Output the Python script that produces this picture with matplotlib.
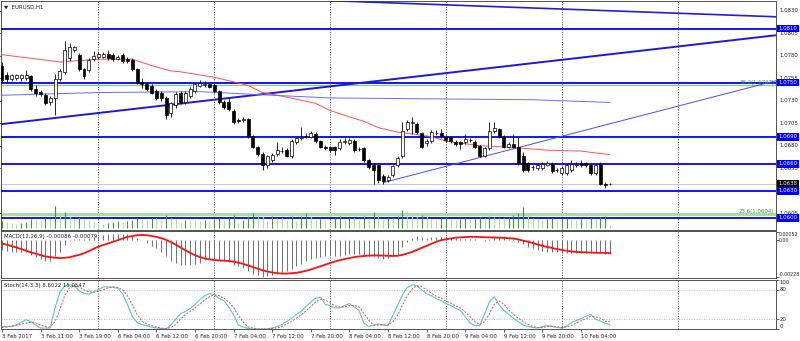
# EURUSD H1 terminal-style chart: candles + MAs + levels, MACD and Stochastic panes
import numpy as np
import matplotlib
matplotlib.use("Agg")
import matplotlib.pyplot as plt
import matplotlib.transforms as mtransforms

plt.rcParams["font.family"] = ["DejaVu Sans"]

# ---- price bars (bar 0 = 3 Feb 2017 03:00, hourly)
opens = [1.0769,1.0759,1.0754,1.0755,1.0755,1.0755,1.0757,1.0743,1.0740,1.0736,
         1.0728,1.0733,1.0754,1.0762,1.0777,1.0786,1.0781,1.0765,1.0764,1.0776,
         1.0779,1.0779,1.0782,1.0781,1.0776,1.0781,1.0776,1.0775,1.0765,1.0751,
         1.0749,1.0746,1.0741,1.0739,1.0733,1.0716,1.0725,1.0739,1.0728,1.0735,
         1.0741,1.0746,1.0747,1.0748,1.0747,1.0741,1.0729,1.0728,1.0719,1.0709,
         1.0708,1.0710,1.0691,1.0679,1.0671,1.0658,1.0664,1.0671,1.0674,1.0675,
         1.0669,1.0684,1.0688,1.0691,1.0690,1.0693,1.0685,1.0679,1.0678,1.0678,
         1.0677,1.0684,1.0683,1.0685,1.0676,1.0677,1.0664,1.0659,1.0658,1.0646,
         1.0642,1.0647,1.0658,1.0668,1.0698,1.0705,1.0704,1.0694,1.0683,1.0685,
         1.0694,1.0694,1.0690,1.0690,1.0684,1.0684,1.0684,1.0686,1.0684,1.0680,
         1.0669,1.0677,1.0696,1.0698,1.0690,1.0679,1.0682,1.0679,1.0668,1.0661,
         1.0656,1.0655,1.0655,1.0659,1.0660,1.0653,1.0650,1.0650,1.0653,1.0658,
         1.0660,1.0661,1.0659,1.0650,1.0660,1.0637,1.0637]
closes = [1.0753,1.0754,1.0758,1.0758,1.0758,1.0758,1.0743,1.0739,1.0737,1.0727,
          1.0733,1.0754,1.0763,1.0786,1.0790,1.0790,1.0765,1.0757,1.0775,1.0780,
          1.0782,1.0782,1.0777,1.0776,1.0779,1.0774,1.0774,1.0765,1.0750,1.0748,
          1.0743,1.0739,1.0733,1.0733,1.0714,1.0727,1.0737,1.0728,1.0739,1.0743,
          1.0748,1.0750,1.0749,1.0745,1.0741,1.0728,1.0723,1.0721,1.0706,1.0707,
          1.0710,1.0691,1.0679,1.0671,1.0658,1.0668,1.0670,1.0675,1.0674,1.0669,
          1.0685,1.0688,1.0690,1.0691,1.0694,1.0685,1.0679,1.0677,1.0675,1.0675,
          1.0684,1.0685,1.0686,1.0675,1.0676,1.0664,1.0656,1.0653,1.0642,1.0641,
          1.0645,1.0657,1.0666,1.0696,1.0706,1.0706,1.0695,1.0679,1.0685,1.0695,
          1.0694,1.0691,1.0686,1.0685,1.0682,1.0682,1.0687,1.0686,1.0679,1.0669,
          1.0677,1.0696,1.0700,1.0690,1.0679,1.0682,1.0679,1.0661,1.0653,1.0653,
          1.0656,1.0658,1.0660,1.0661,1.0652,1.0653,1.0655,1.0658,1.0660,1.0660,
          1.0658,1.0658,1.0650,1.0658,1.0637,1.0636,1.0638]
highs = [1.0773,1.0762,1.0760,1.0760,1.0760,1.0764,1.0759,1.0747,1.0742,1.0738,
         1.0735,1.0760,1.0765,1.0796,1.0794,1.0791,1.0783,1.0766,1.0777,1.0785,
         1.0784,1.0784,1.0786,1.0783,1.0781,1.0783,1.0778,1.0777,1.0766,1.0755,
         1.0751,1.0748,1.0743,1.0741,1.0735,1.0729,1.0740,1.0741,1.0741,1.0745,
         1.0750,1.0753,1.0752,1.0750,1.0749,1.0742,1.0731,1.0733,1.0721,1.0711,
         1.0712,1.0711,1.0692,1.0680,1.0673,1.0670,1.0672,1.0684,1.0678,1.0677,
         1.0687,1.0690,1.0701,1.0694,1.0696,1.0695,1.0686,1.0681,1.0680,1.0680,
         1.0687,1.0689,1.0689,1.0687,1.0678,1.0679,1.0665,1.0661,1.0659,1.0649,
         1.0648,1.0659,1.0668,1.0706,1.0708,1.0712,1.0706,1.0695,1.0687,1.0697,
         1.0697,1.0698,1.0692,1.0691,1.0686,1.0685,1.0693,1.0689,1.0686,1.0681,
         1.0679,1.0706,1.0706,1.0700,1.0692,1.0684,1.0693,1.0690,1.0673,1.0662,
         1.0658,1.0660,1.0662,1.0663,1.0662,1.0655,1.0657,1.0660,1.0664,1.0662,
         1.0664,1.0662,1.0660,1.0660,1.0662,1.0640,1.0639]
lows = [1.0751,1.0750,1.0752,1.0753,1.0752,1.0753,1.0741,1.0735,1.0735,1.0725,
        1.0725,1.0714,1.0752,1.0760,1.0774,1.0784,1.0763,1.0754,1.0762,1.0774,
        1.0776,1.0777,1.0775,1.0774,1.0775,1.0772,1.0772,1.0763,1.0748,1.0744,
        1.0741,1.0737,1.0731,1.0730,1.0710,1.0712,1.0722,1.0726,1.0726,1.0733,
        1.0739,1.0745,1.0745,1.0744,1.0739,1.0726,1.0721,1.0719,1.0704,1.0705,
        1.0706,1.0689,1.0677,1.0669,1.0653,1.0655,1.0662,1.0669,1.0672,1.0667,
        1.0666,1.0682,1.0686,1.0688,1.0688,1.0683,1.0677,1.0675,1.0673,1.0670,
        1.0675,1.0682,1.0681,1.0673,1.0674,1.0662,1.0654,1.0637,1.0639,1.0638,
        1.0640,1.0645,1.0656,1.0666,1.0696,1.0693,1.0693,1.0677,1.0680,1.0683,
        1.0692,1.0688,1.0684,1.0683,1.0680,1.0676,1.0682,1.0684,1.0677,1.0667,
        1.0667,1.0675,1.0694,1.0688,1.0677,1.0677,1.0677,1.0659,1.0651,1.0651,
        1.0653,1.0653,1.0653,1.0657,1.0650,1.0651,1.0648,1.0647,1.0651,1.0656,
        1.0656,1.0656,1.0648,1.0648,1.0636,1.0633,1.0636]
volumes = [700,600,500,400,500,600,900,800,700,1000,
           900,2200,1300,1600,1200,900,1100,900,800,700,
           500,400,500,600,700,600,700,800,1000,900,
           800,1000,1000,900,1300,1000,900,500,830,830,
           830,670,830,670,830,1000,830,1000,1330,500,
           830,1170,1500,1430,1170,670,1170,1000,1000,830,
           1170,670,1170,1500,1170,830,900,830,400,1000,
           1170,830,1000,1000,830,1170,1000,1570,1170,830,
           1000,1000,1170,1770,1670,1170,1170,1330,1170,900,
           800,1000,1100,900,800,900,1000,800,900,1100,
           1000,1200,1100,1000,1000,1100,1300,1500,2100,1400,
           1000,900,800,900,1000,800,900,1000,900,800,
           900,800,1000,900,1100,1200,300]

# ---- moving averages (read at a few bars)
ma_red_bars = [0, 12, 20, 27, 31, 35, 37, 44, 51, 54, 58, 65, 68, 72, 75, 78, 82, 85, 89, 92, 99, 106, 113, 120, 126]
ma_red = [1.0781, 1.0773, 1.0776, 1.0776, 1.0769, 1.0763, 1.0762, 1.0756, 1.0747, 1.0739, 1.0735, 1.0727, 1.0719,
          1.0712, 1.0707, 1.0700, 1.0695, 1.0693, 1.0690, 1.0685, 1.0680, 1.0678, 1.0675, 1.0674, 1.0670]
ma_blue_bars = [0, 20, 41, 52, 68, 89, 110, 126]
ma_blue = [1.0736, 1.0739, 1.0740, 1.0737, 1.0733, 1.0732, 1.0731, 1.0728]

# ---- drawn objects
hlevels = [1.0810, 1.0750, 1.0690, 1.0660, 1.0630, 1.0600]
bid = 1.0638
fib_levels = [1.0747, 1.0604]
fib_names = ["38.2(1.0747)", "23.6(1.0604)"]
trend_main = ([0, 161], [1.0704, 1.0803])
trend_top = ([68, 161], [1.0841, 1.0823])
trend_thin = ([79, 161], [1.0639, 1.0753])

# ---- MACD(12,26,9), units of 1e-5
macd_main = [-60,-65,-70,-70,-70,-75,-90,-105,-115,-125,
             -125,-100,-70,-30,-5,5,10,5,15,20,
             25,30,35,38,40,38,35,28,15,0,
             -15,-35,-50,-70,-100,-125,-140,-150,-155,-150,
             -145,-140,-120,-115,-115,-120,-125,-135,-150,-160,
             -170,-190,-205,-215,-225,-220,-215,-205,-195,-190,
             -175,-160,-145,-130,-115,-110,-105,-100,-100,-100,
             -95,-90,-85,-85,-85,-90,-95,-100,-110,-115,
             -110,-100,-85,-45,-10,15,25,20,15,20,
             20,20,18,15,12,10,10,8,5,0,
             -5,10,20,20,15,10,5,-10,-25,-40,
             -50,-60,-65,-70,-72,-75,-78,-78,-78,-78,
             -78,-78,-80,-80,-78,-84,-86]
macd_signal = [-20,-28,-37,-45,-55,-65,-75,-83,-92,-100,
               -104,-108,-110,-108,-105,-97,-90,-80,-67,-53,
               -40,-30,-20,-10,0,10,20,25,30,32,
               30,26,20,12,2,-12,-28,-45,-62,-78,
               -92,-104,-112,-118,-122,-124,-126,-128,-132,-138,
               -146,-155,-165,-175,-185,-192,-198,-202,-205,-205,
               -203,-200,-195,-188,-180,-170,-160,-150,-140,-131,
               -123,-116,-110,-104,-100,-97,-95,-94,-94,-95,
               -96,-97,-96,-90,-82,-72,-60,-47,-35,-22,
               -10,0,5,10,15,17,19,20,20,19,
               18,17,16,15,14,12,10,4,-3,-10,
               -18,-27,-35,-42,-48,-55,-60,-65,-70,-72,
               -74,-75,-76,-77,-78,-78,-79]

# ---- Stochastic(14,3,3)
stoch_main = [5,5,5,8,14,19,15,8,2,2,
              2,43,75,88,90,88,78,73,71,76,
              80,86,86,85,83,72,50,26,13,9,
              7,4,2,1,0,8,20,31,36,42,
              50,60,68,72,70,62,58,45,29,8,
              4,1,0,0,0,0,2,5,9,15,
              22,30,36,46,55,63,65,50,48,43,
              43,48,52,45,38,12,5,8,10,8,
              7,28,48,70,85,90,88,80,72,68,
              62,58,52,48,42,38,25,12,7,7,
              30,55,66,50,38,30,22,15,8,5,
              3,2,5,7,5,3,2,6,13,17,
              21,26,30,20,16,12,8.6]
stoch_signal = [3,4,6,8,10,12,14,12,8,5,
                4,15,40,68,84,88,86,80,76,75,
                77,80,84,86,85,80,68,50,30,16,
                10,7,4,2,1,3,9,20,29,36,
                43,51,59,66,70,68,63,55,44,27,
                14,4,2,0,0,0,1,2,5,10,
                15,22,29,37,46,55,61,59,54,47,
                45,45,48,48,45,32,18,8,8,9,
                8,15,28,49,68,82,88,86,80,73,
                67,63,57,53,47,43,35,25,15,9,
                15,31,50,57,51,39,30,22,15,9,
                5,3,3,5,6,5,3,4,7,12,
                17,21,26,25,22,16,15.05]

# ---- time axis
tick_bars = list(range(0, 121, 8))
tick_labels = ["3 Feb 2017", "3 Feb 11:00", "3 Feb 19:00", "6 Feb 04:00", "6 Feb 12:00", "6 Feb 20:00",
               "7 Feb 04:00", "7 Feb 12:00", "7 Feb 20:00", "8 Feb 04:00", "8 Feb 12:00", "8 Feb 20:00",
               "9 Feb 04:00", "9 Feb 12:00", "9 Feb 20:00", "10 Feb 04:00"]
day_bars = [20, 44, 68, 92, 116, 140]

price_ticks = [1.0830, 1.0805, 1.0780, 1.0755, 1.0730, 1.0705, 1.0680, 1.0655, 1.0605]

FS = 3.9
W, H = 800, 341
BLUE = "#0000ff"
TXT = "#202020"


def pane(top, bottom):
    return [1 / W, 1 - bottom / H, 775 / W, (bottom - top) / H]


def right_labels(a, values, texts, vas=None, fs=FS, dx=1.0045):
    """tick marks on the right edge + labels written as plain texts"""
    a.set_yticks(values)
    a.set_yticklabels([])
    tr = mtransforms.blended_transform_factory(a.transAxes, a.transData)
    for i, (v, t) in enumerate(zip(values, texts)):
        va = vas[i] if vas else "center"
        a.text(dx, v, t, transform=tr, fontsize=fs, color=TXT, va=va, ha="left", clip_on=False)


fig = plt.figure(figsize=(W / 100, H / 100), dpi=100)
fig.patch.set_facecolor("white")
ax = fig.add_axes(pane(1, 230))
axm = fig.add_axes(pane(231, 278))
axs = fig.add_axes(pane(280, 329))

x = np.arange(len(closes))
o, c = np.array(opens), np.array(closes)
hi, lo = np.array(highs), np.array(lows)

for a in (ax, axm, axs):
    a.set_xlim(-0.2, 160.4)
    for s in a.spines.values():
        s.set_color("#505050")
        s.set_linewidth(0.7)
    for g in day_bars:
        a.axvline(g, color="#505050", lw=0.6, ls=(0, (1.5, 1.5)), zorder=1)
    a.tick_params(axis="y", which="both", right=True, left=False, labelright=False, labelleft=False,
                  length=2, width=0.5, colors=TXT)
    a.tick_params(axis="x", length=0, labelbottom=False)

# ---- main pane
ax.set_ylim(1.0830 - 229 / 9400, 1.0830 + 10 / 9400)

# volumes on their own scale at the bottom
axv = ax.twinx()
axv.set_ylim(-200, 22700)
axv.axis("off")
vol = np.array(volumes)
vol_up = np.r_[True, vol[1:] > vol[:-1]]
axv.vlines(x[vol_up], 0, vol[vol_up], color="#2ea02e", lw=0.8, zorder=2)
axv.vlines(x[~vol_up], 0, vol[~vol_up], color="#a8dca8", lw=0.8, zorder=2)

for lvl in hlevels:
    ax.axhline(lvl, color=BLUE, lw=1.3, zorder=3)
ax.axhline(bid, color="#c8c8c8", lw=0.7, zorder=2)
ax.axhline(fib_levels[0], color="#88cc88", lw=0.9, zorder=2)
ax.axhline(fib_levels[1], color="#a8dca8", lw=2.2, zorder=2)

ax.plot(*trend_main, color="#1a1ad6", lw=1.4, zorder=3)
ax.plot(*trend_top, color="#2020d0", lw=1.2, zorder=3)
ax.plot(*trend_thin, color="#4a4aff", lw=0.7, zorder=3)
ax.plot(ma_red_bars, ma_red, color="#ff5050", lw=0.7, zorder=3)
ax.plot(ma_blue_bars, ma_blue, color="#6a6aff", lw=0.7, zorder=3)

# candles
up = c >= o
ax.vlines(x, lo, hi, color="black", lw=0.6, zorder=4)
body = np.where(np.abs(c - o) < 0.00003, 0.00003, c - o)
bottom = np.where(np.abs(c - o) < 0.00003, o - 0.000015, o)
ax.bar(x, body, bottom=bottom, width=0.62, color=np.where(up, "white", "black"),
       edgecolor="black", linewidth=0.5, zorder=5)

right_labels(ax, price_ticks, [f"{p:.4f}" for p in price_ticks])

lab_tr = mtransforms.blended_transform_factory(ax.transAxes, ax.transData)
for lvl in hlevels:
    ax.text(1.0035, lvl, f"{lvl:.4f}", transform=lab_tr, fontsize=FS, color="white", va="center", ha="left",
            bbox=dict(boxstyle="square,pad=0.25", fc=BLUE, ec="none"), zorder=10, clip_on=False)
ax.text(1.0035, bid, f"{bid:.4f}", transform=lab_tr, fontsize=FS, color="white", va="center", ha="left",
        bbox=dict(boxstyle="square,pad=0.25", fc="black", ec="none"), zorder=10, clip_on=False)
for lvl, name in zip(fib_levels, fib_names):
    ax.text(0.998, lvl, name, transform=lab_tr, fontsize=FS, color="#3c9c3c", va="bottom", ha="right", zorder=6)

ax.text(0.004, 0.985, "\u25bc  EURUSD,H1", transform=ax.transAxes, fontsize=FS, va="top", ha="left",
        color=TXT)

# ---- MACD pane
m_main = np.array(macd_main) * 1e-5
m_sig = np.array(macd_signal) * 1e-5
axm.set_ylim(-0.00232, 0.00056)
axm.vlines(x, 0, m_main, color="#707070", lw=0.7, zorder=2)
axm.plot(x, m_sig, color="#ff1010", lw=1.3, zorder=3)
right_labels(axm, [0.00052, 0.0, -0.00228], ["0.00052", "0.00", "-0.00228"], ["top", "center", "bottom"],
             fs=3.4, dx=1.003)
axm.text(0.004, 0.93, "MACD(12,26,9) -0.00086 -0.00079", transform=axm.transAxes, fontsize=FS,
         va="top", ha="left", color=TXT)

# ---- Stochastic pane
axs.set_ylim(0, 100)
for lvl in (80, 20):
    axs.axhline(lvl, color="#c0c0c0", lw=0.6, ls=(0, (1.5, 1.5)), zorder=1)
axs.plot(x, stoch_main, color="#4ccfc4", lw=0.8, zorder=3)
axs.plot(x, stoch_signal, color="#ff4040", lw=0.7, ls=(0, (2, 1.5)), zorder=3)
right_labels(axs, [100, 80, 20, 0], ["100", "80", "20", "0"], ["top", "center", "center", "bottom"])
axs.text(0.004, 0.93, "Stoch(14,3,3) 8.6022 15.0547", transform=axs.transAxes, fontsize=FS,
         va="top", ha="left", color=TXT)

axs.set_xticks(tick_bars)
axs.set_xticklabels(tick_labels, ha="left")
axs.tick_params(axis="x", length=2, width=0.5, pad=1.5, labelsize=FS, labelbottom=True, colors=TXT)

fig.savefig("out.png", dpi=100, facecolor="white")
